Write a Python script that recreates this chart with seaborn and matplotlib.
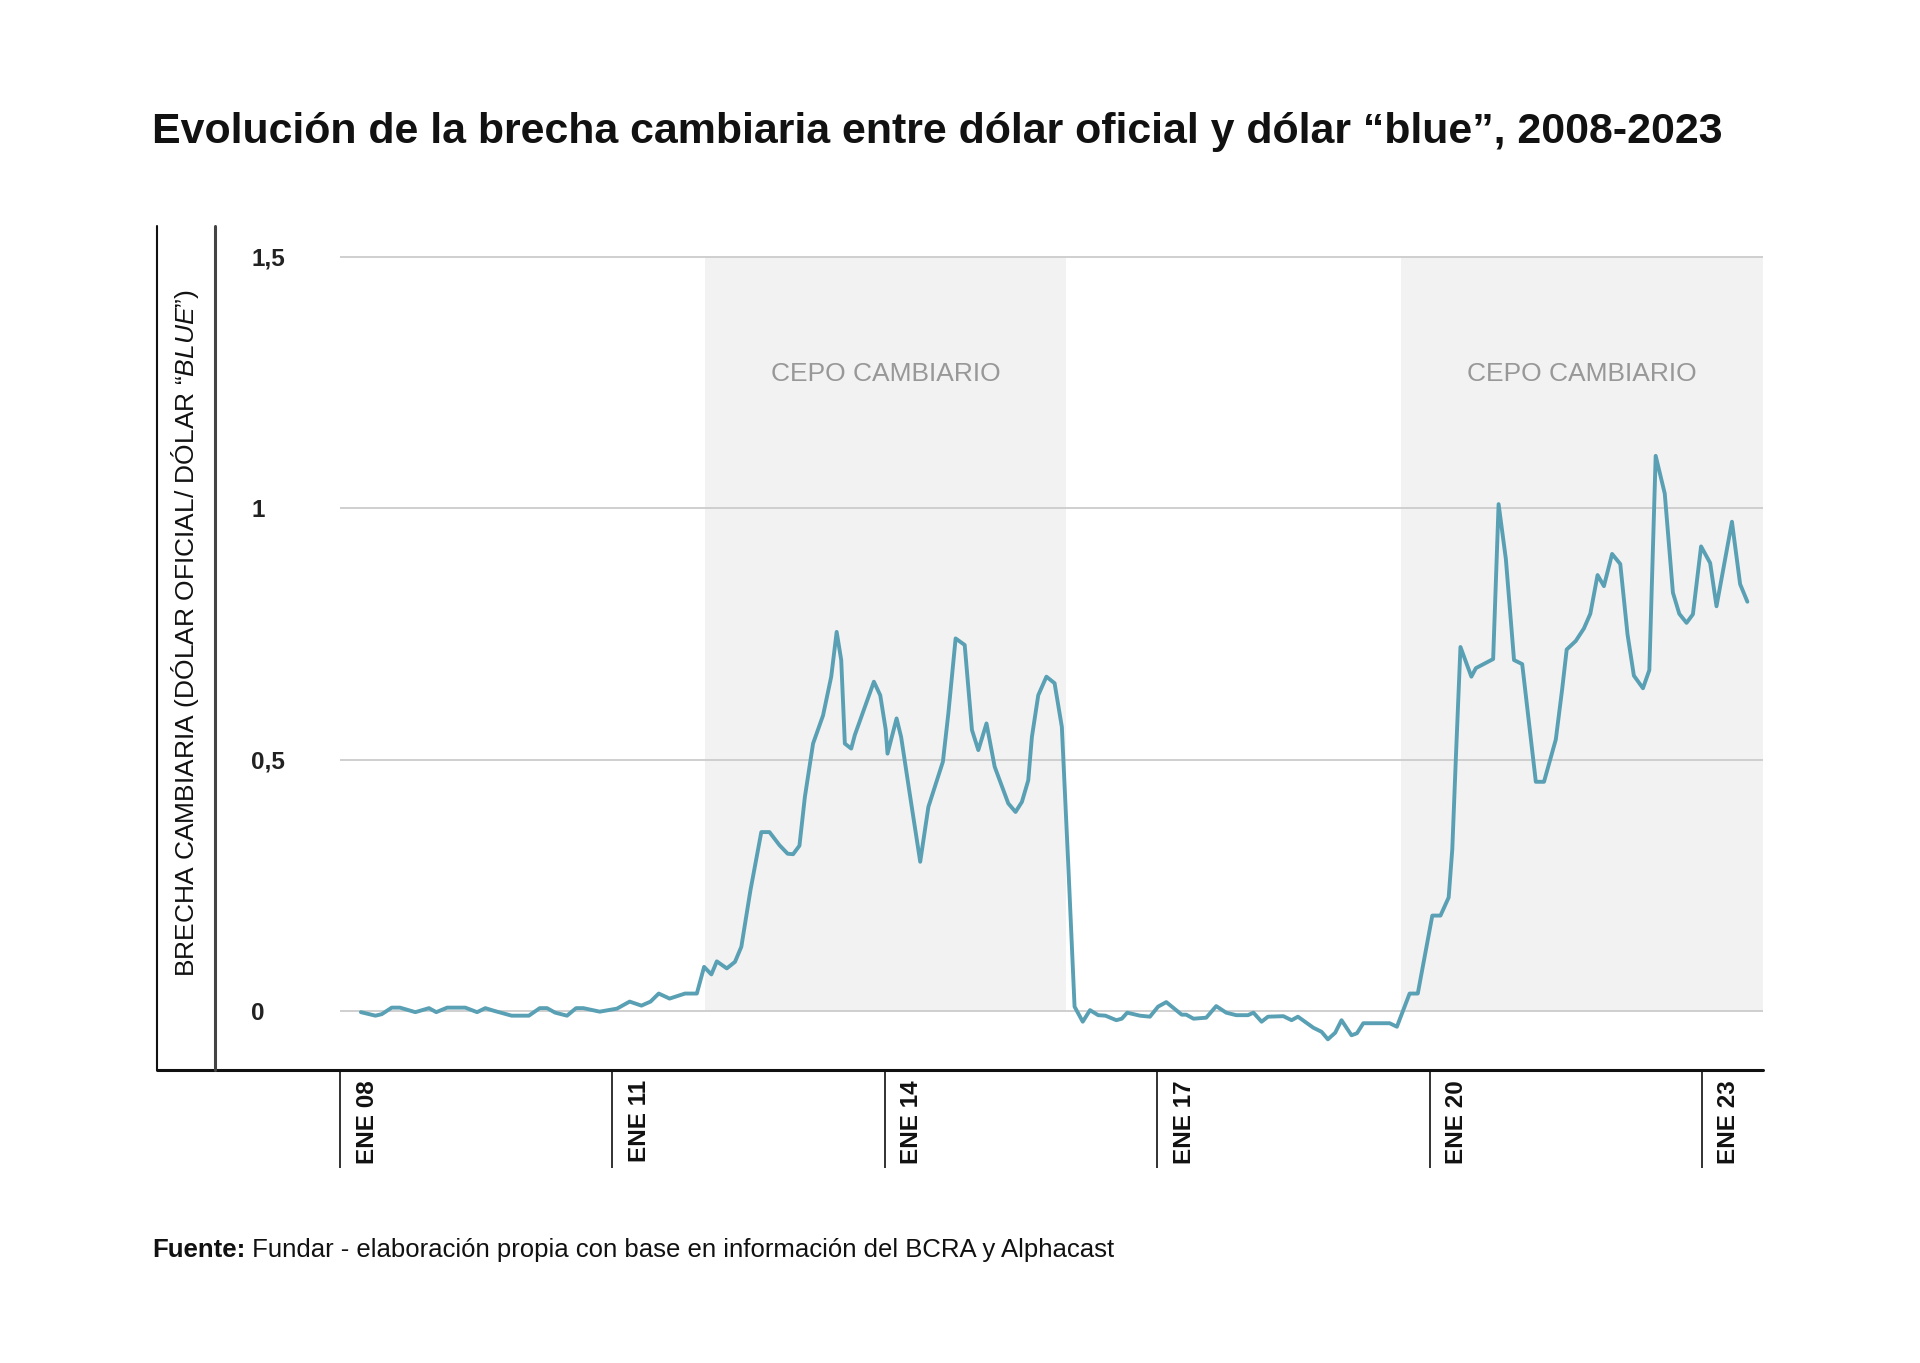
import matplotlib

matplotlib.use("Agg")
import matplotlib.pyplot as plt
import pandas as pd
import seaborn as sns
from matplotlib.lines import Line2D
from matplotlib.transforms import ScaledTranslation

# Brecha cambiaria (dolar oficial / dolar "blue"), fechas en anos fraccionarios
fechas_pre_cepo = [2008.23, 2008.39, 2008.46, 2008.57, 2008.66, 2008.83, 2008.98, 2009.06,
                   2009.18, 2009.38, 2009.51, 2009.60, 2009.69, 2009.89, 2010.08, 2010.20,
                   2010.28, 2010.37, 2010.50, 2010.60, 2010.68, 2010.86, 2011.05, 2011.19,
                   2011.32, 2011.42, 2011.51, 2011.63, 2011.80, 2011.93]
brecha_pre_cepo = [-0.002, -0.009, -0.006, 0.007, 0.007, -0.002, 0.006, -0.002,
                   0.007, 0.007, -0.002, 0.006, 0.001, -0.009, -0.009, 0.006,
                   0.006, -0.003, -0.009, 0.006, 0.006, -0.001, 0.005, 0.019,
                   0.011, 0.019, 0.035, 0.025, 0.035, 0.035]

fechas_cepo_1 = [2012.01, 2012.09, 2012.15, 2012.26, 2012.35, 2012.42, 2012.52, 2012.64,
                 2012.73, 2012.84, 2012.93, 2012.99, 2013.06, 2013.12, 2013.21, 2013.32,
                 2013.41, 2013.47, 2013.52, 2013.56, 2013.63, 2013.67, 2013.88, 2013.95,
                 2014.01, 2014.03, 2014.13, 2014.18, 2014.28, 2014.39, 2014.48, 2014.64,
                 2014.70, 2014.78, 2014.88, 2014.96, 2015.03, 2015.12, 2015.21, 2015.36,
                 2015.44, 2015.51, 2015.58, 2015.62, 2015.69, 2015.78, 2015.87, 2015.95,
                 2016.02, 2016.09]
brecha_cepo_1 = [0.088, 0.073, 0.099, 0.085, 0.098, 0.128, 0.240, 0.356,
                 0.356, 0.330, 0.313, 0.312, 0.329, 0.426, 0.532, 0.588,
                 0.665, 0.754, 0.698, 0.532, 0.522, 0.549, 0.655, 0.628,
                 0.560, 0.512, 0.582, 0.545, 0.426, 0.297, 0.406, 0.496,
                 0.592, 0.741, 0.728, 0.559, 0.519, 0.572, 0.486, 0.413,
                 0.396, 0.416, 0.459, 0.545, 0.628, 0.665, 0.652, 0.565,
                 0.294, 0.009]

fechas_sin_cepo = [2016.18, 2016.26, 2016.35, 2016.43, 2016.55, 2016.61, 2016.67, 2016.81,
                   2016.92, 2017.01, 2017.10, 2017.27, 2017.32, 2017.40, 2017.54, 2017.65,
                   2017.76, 2017.87, 2018.00, 2018.06, 2018.15, 2018.22, 2018.39, 2018.48,
                   2018.55, 2018.72, 2018.81, 2018.88, 2018.96, 2019.03, 2019.14, 2019.20,
                   2019.27, 2019.56, 2019.64, 2019.78, 2019.87]
brecha_sin_cepo = [-0.021, 0.002, -0.008, -0.009, -0.018, -0.015, -0.003, -0.009,
                   -0.011, 0.009, 0.018, -0.007, -0.007, -0.015, -0.013, 0.010,
                   -0.003, -0.008, -0.008, -0.003, -0.021, -0.011, -0.010, -0.018,
                   -0.011, -0.033, -0.041, -0.056, -0.043, -0.018, -0.048, -0.044,
                   -0.024, -0.024, -0.031, 0.035, 0.035]

fechas_cepo_2 = [2020.03, 2020.12, 2020.21, 2020.25, 2020.29, 2020.34, 2020.46, 2020.51,
                 2020.70, 2020.76, 2020.84, 2020.93, 2021.02, 2021.17, 2021.26, 2021.39,
                 2021.46, 2021.51, 2021.61, 2021.70, 2021.77, 2021.85, 2021.92, 2022.01,
                 2022.10, 2022.18, 2022.25, 2022.35, 2022.42, 2022.49, 2022.59, 2022.68,
                 2022.75, 2022.83, 2022.90, 2022.99, 2023.09, 2023.16, 2023.33, 2023.42,
                 2023.50]
brecha_cepo_2 = [0.190, 0.190, 0.226, 0.322, 0.506, 0.724, 0.665, 0.682,
                 0.700, 1.008, 0.899, 0.698, 0.690, 0.456, 0.456, 0.540,
                 0.640, 0.719, 0.736, 0.761, 0.790, 0.867, 0.845, 0.909,
                 0.889, 0.749, 0.667, 0.642, 0.678, 1.104, 1.029, 0.832,
                 0.790, 0.772, 0.789, 0.924, 0.891, 0.805, 0.973, 0.849,
                 0.814]

# periodos de cepo cambiario (sombreados)
cepo_inicio = [2012.02, 2019.68]
cepo_fin = [2016.00, 2023.67]

x_ticks = [2008, 2011, 2014, 2017, 2020, 2023]
x_labels = ["ENE 08", "ENE 11", "ENE 14", "ENE 17", "ENE 20", "ENE 23"]
y_ticks = [0, 0.5, 1, 1.5]
y_labels = ["0", "0,5", "1", "1,5"]

df = pd.DataFrame({
    "fecha": fechas_pre_cepo + fechas_cepo_1 + fechas_sin_cepo + fechas_cepo_2,
    "brecha": brecha_pre_cepo + brecha_cepo_1 + brecha_sin_cepo + brecha_cepo_2,
})

sns.set_style("white")
plt.rcParams["font.family"] = ["Liberation Sans", "DejaVu Sans"]
plt.rcParams["mathtext.fontset"] = "custom"
plt.rcParams["mathtext.rm"] = "Liberation Sans"
plt.rcParams["mathtext.it"] = "Liberation Sans:italic"
plt.rcParams["mathtext.bf"] = "Liberation Sans:bold"

W, H = 1920, 1363
fig = plt.figure(figsize=(W / 100, H / 100), dpi=100)
ax = fig.add_axes([340 / W, 1 - 1070 / H, (1763 - 340) / W, (1070 - 226) / H])

for x0, x1 in zip(cepo_inicio, cepo_fin):
    ax.fill_between([x0, x1], 0, 1.5, color="#f2f2f2", lw=0, zorder=0)
    ax.text((x0 + x1) / 2, 1.266, "CEPO CAMBIARIO", ha="center", va="center",
            color="#989898", fontsize=19)
for v in y_ticks:
    ax.axhline(v, color="#cfcfcf", lw=1.4, zorder=1)

sns.lineplot(data=df, x="fecha", y="brecha", color="#5aa0b4", lw=2.8, ax=ax, zorder=3)

ax.set_xlim(2008, 2023.672)
ax.set_ylim(-0.117, 1.561)
ax.set_xlabel("")
ax.set_ylabel("")
sns.despine(ax=ax, left=True, bottom=True)

ax.set_yticks(y_ticks, y_labels, fontsize=17.5, fontweight="bold", color="#222222")
ax.tick_params(axis="y", length=0, pad=64)
for lab in ax.get_yticklabels():
    lab.set_horizontalalignment("left")

ax.set_xticks(x_ticks, x_labels, rotation=90, fontsize=17.5, fontweight="bold", color="#111111")
ax.tick_params(axis="x", bottom=True, length=70.5, width=1.3, color="#222222",
               direction="out", pad=0)
shift = ScaledTranslation(27 / 100, 88 / 100, fig.dpi_scale_trans)
for lab in ax.get_xticklabels():
    lab.set_transform(lab.get_transform() + shift)

# marco: linea inferior y dos verticales a la izquierda
y_base = 1 - 1070 / H
y_top = 1 - 226 / H
fig.add_artist(Line2D([157 / W, 1763 / W], [y_base, y_base], color="#111111", lw=2.2))
fig.add_artist(Line2D([157 / W, 157 / W], [y_base, y_top], color="#111111", lw=1.5))
fig.add_artist(Line2D([215 / W, 215 / W], [y_base, y_top], color="#444444", lw=2.2))

fig.text(185 / W, 1 - 633 / H,
         "BRECHA CAMBIARIA (DÓLAR OFICIAL/ DÓLAR “$\\mathit{BLUE}$”)",
         rotation=90, ha="center", va="center", fontsize=19, color="#111111")

fig.text(152 / W, 1 - 143 / H,
         "Evolución de la brecha cambiaria entre dólar oficial y dólar “blue”, 2008-2023",
         fontsize=30.9, fontweight="bold", va="baseline", color="#111111")

fuente = fig.text(152 / W, 1 - 1257 / H, "Fuente:", fontsize=18.5, fontweight="bold",
                  va="baseline", color="#111111")
ax.annotate(" Fundar - elaboración propia con base en información del BCRA y Alphacast",
            xy=(1, 0), xycoords=fuente, va="bottom", ha="left", fontsize=18.5,
            color="#111111", annotation_clip=False)

fig.savefig("out.png", dpi=100, facecolor="white")
